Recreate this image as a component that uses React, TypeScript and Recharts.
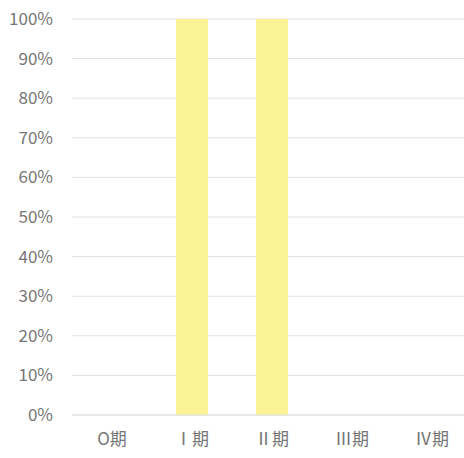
import React from "react";
import { BarChart, Bar, XAxis, YAxis, CartesianGrid } from "recharts";

const categories = ["O期", "Ⅰ期", "Ⅱ期", "Ⅲ期", "Ⅳ期"];
const values = [0, 1, 1, 0, 0];
const yTicks = [0, 0.1, 0.2, 0.3, 0.4, 0.5, 0.6, 0.7, 0.8, 0.9, 1];

const data = categories.map((name, i) => ({ name, value: values[i] }));

const font = "'Noto Sans CJK JP', 'Noto Sans', sans-serif";
const tickStyle = { fill: "#767676", fontSize: 17, fontFamily: font };

export default function App() {
  return (
    <div style={{ position: "absolute", left: 0, top: 0, width: 464, height: 458, overflow: "hidden", background: "#fff" }}>
      <BarChart
        width={480}
        height={458}
        data={data}
        margin={{ top: 19, right: 8, bottom: 0, left: 0 }}
      >
        <CartesianGrid vertical={false} stroke="#E0E0E0" strokeWidth={1} />
        <XAxis
          dataKey="name"
          axisLine={{ stroke: "#E0E0E0" }}
          tickLine={false}
          tickSize={0}
          tickMargin={18}
          height={43}
          tick={tickStyle}
          interval={0}
        />
        <YAxis
          domain={[0, 1]}
          ticks={yTicks}
          tickFormatter={(v: number) => `${Math.round(v * 100)}%`}
          axisLine={false}
          tickLine={false}
          tickSize={0}
          tickMargin={19}
          width={72}
          tick={tickStyle}
          interval={0}
        />
        <Bar dataKey="value" fill="#FAF396" barSize={32} isAnimationActive={false} />
      </BarChart>
    </div>
  );
}
